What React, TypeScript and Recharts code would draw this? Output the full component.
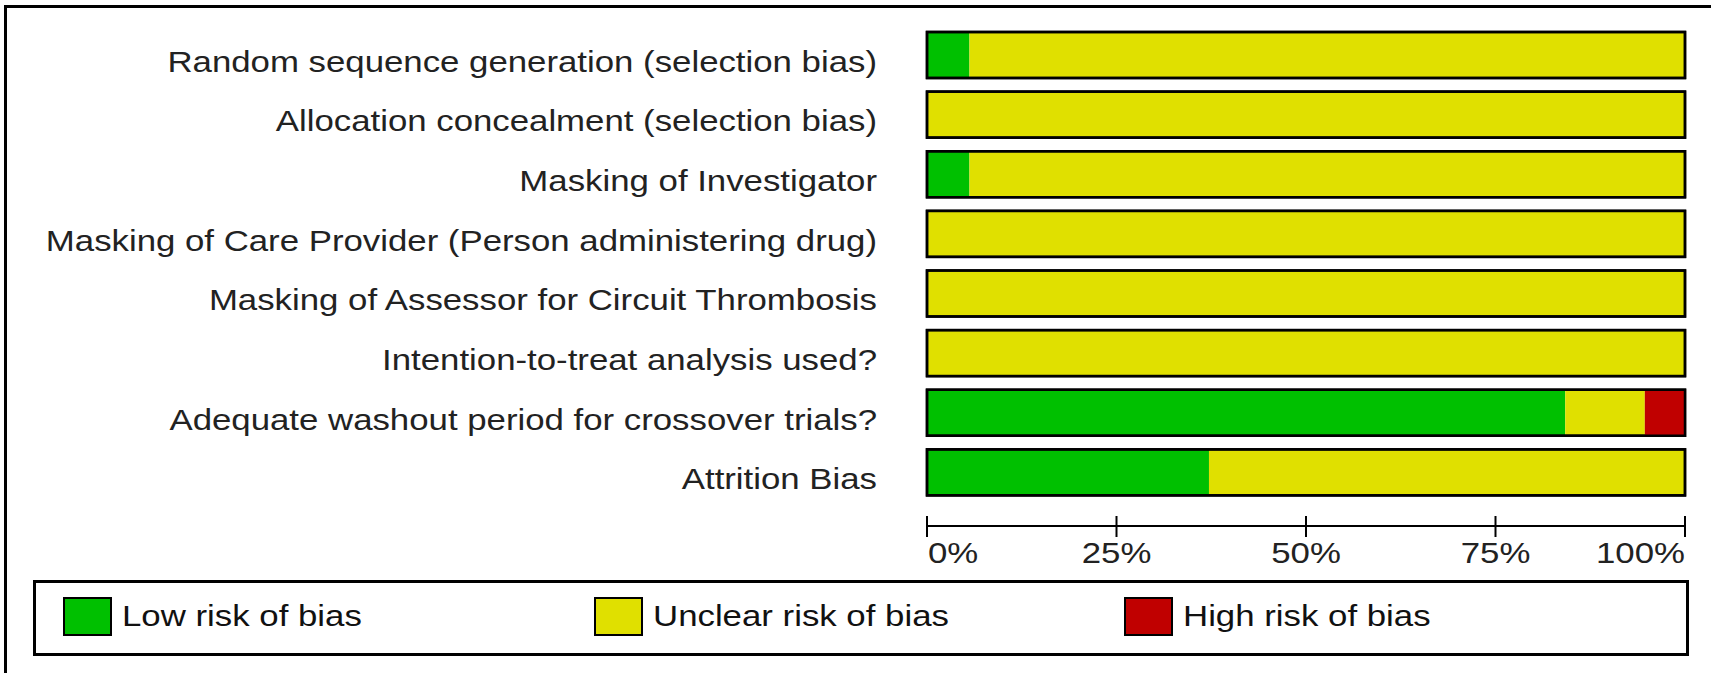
import React from 'react';
import { BarChart, Bar, XAxis, YAxis } from 'recharts';

// risk-of-bias domains, top to bottom
const domains = [
  'Random sequence generation (selection bias)',
  'Allocation concealment (selection bias)',
  'Masking of Investigator',
  'Masking of Care Provider (Person administering drug)',
  'Masking of Assessor for Circuit Thrombosis',
  'Intention-to-treat analysis used?',
  'Adequate washout period for crossover trials?',
  'Attrition Bias',
];

// percent of studies per judgement
const lowRisk = [5.6, 0, 5.6, 0, 0, 0, 84.2, 37.2];
const unclearRisk = [94.4, 100, 94.4, 100, 100, 100, 10.5, 62.8];
const highRisk = [0, 0, 0, 0, 0, 0, 5.3, 0];

const percentTicks = [0, 25, 50, 75, 100];
const seriesNames = ['Low risk of bias', 'Unclear risk of bias', 'High risk of bias'];
const seriesColors = ['#00c000', '#e0e000', '#c00000'];

const data = domains.map((domain, i) => ({
  domain,
  low: lowRisk[i],
  unclear: unclearRisk[i],
  high: highRisk[i],
}));

const FONT = '"Liberation Sans", Arial, Helvetica, sans-serif';
const STRETCH = 1.16;

function DomainTick({ x, y, payload }: any) {
  return (
    <text
      transform={`translate(${x},${y + 17}) scale(${STRETCH},1)`}
      textAnchor="end"
      fontFamily={FONT}
      fontSize={30}
      fill="#222"
    >
      {payload.value}
    </text>
  );
}

function PercentTick({ x, y, payload }: any) {
  const v = payload.value;
  const anchor = v === 0 ? 'start' : v === 100 ? 'end' : 'middle';
  return (
    <g>
      <line x1={x} y1={y - 10} x2={x} y2={y + 11} stroke="#000" strokeWidth={2} />
      <text
        transform={`translate(${x + (v === 0 ? 1 : 0)},${y + 37}) scale(${STRETCH},1)`}
        textAnchor={anchor}
        fontFamily={FONT}
        fontSize={30}
        fill="#222"
      >
        {v}%
      </text>
    </g>
  );
}

// segment plus the black frame around the whole row
function OutlinedSegment(props: any) {
  const { x, y, width, height, fill, background } = props;
  return (
    <g>
      {width > 0 && <rect x={x} y={y} width={width} height={height} fill={fill} />}
      {background && (
        <rect
          x={background.x}
          y={background.y}
          width={background.width}
          height={background.height}
          fill="none"
          stroke="#000"
          strokeWidth={2.5}
        />
      )}
    </g>
  );
}

export default function App() {
  return (
    <div
      style={{
        position: 'absolute',
        left: 0,
        top: 0,
        width: 1711,
        height: 673,
        overflow: 'hidden',
        background: '#fff',
      }}
    >
      <div
        style={{
          position: 'absolute',
          left: 4,
          top: 5,
          width: 1720,
          height: 700,
          borderTop: '3px solid #000',
          borderLeft: '3px solid #000',
        }}
      />
      <div style={{ position: 'absolute', left: 0, top: 0 }}>
        <BarChart
          width={1711}
          height={673}
          data={data}
          layout="vertical"
          margin={{ top: 25, right: 26, bottom: 0, left: 0 }}
          barSize={46}
        >
          <XAxis
            type="number"
            domain={[0, 100]}
            ticks={percentTicks}
            interval={0}
            height={147}
            axisLine={{ stroke: '#000', strokeWidth: 2 }}
            tickLine={false}
            tickSize={0}
            tickMargin={0}
            tick={<PercentTick />}
          />
          <YAxis
            type="category"
            dataKey="domain"
            width={927}
            interval={0}
            axisLine={false}
            tickLine={false}
            tickSize={0}
            tickMargin={50}
            padding={{ top: 0, bottom: 24 }}
            tick={<DomainTick />}
          />
          <Bar dataKey="low" stackId="rob" fill={seriesColors[0]} isAnimationActive={false} />
          <Bar
            dataKey="unclear"
            stackId="rob"
            fill={seriesColors[1]}
            isAnimationActive={false}
            shape={<OutlinedSegment />}
          />
          <Bar
            dataKey="high"
            stackId="rob"
            fill={seriesColors[2]}
            isAnimationActive={false}
            shape={<OutlinedSegment />}
          />
        </BarChart>
      </div>
      <div
        style={{
          position: 'absolute',
          left: 33,
          top: 580,
          width: 1656,
          height: 76,
          boxSizing: 'border-box',
          border: '3px solid #000',
        }}
      >
        {seriesNames.map((name, i) => (
          <div
            key={name}
            style={{ position: 'absolute', left: 27 + i * 530.5, top: 14, height: 40 }}
          >
            <div
              style={{
                position: 'absolute',
                left: 0,
                top: 0,
                width: 49,
                height: 39,
                boxSizing: 'border-box',
                border: '2px solid #000',
                background: seriesColors[i],
              }}
            />
            <span
              style={{
                position: 'absolute',
                left: 59,
                top: 1,
                fontFamily: FONT,
                fontSize: 30,
                lineHeight: '36px',
                color: '#111',
                whiteSpace: 'nowrap',
                transform: `scaleX(${STRETCH})`,
                transformOrigin: 'left center',
              }}
            >
              {name}
            </span>
          </div>
        ))}
      </div>
    </div>
  );
}
